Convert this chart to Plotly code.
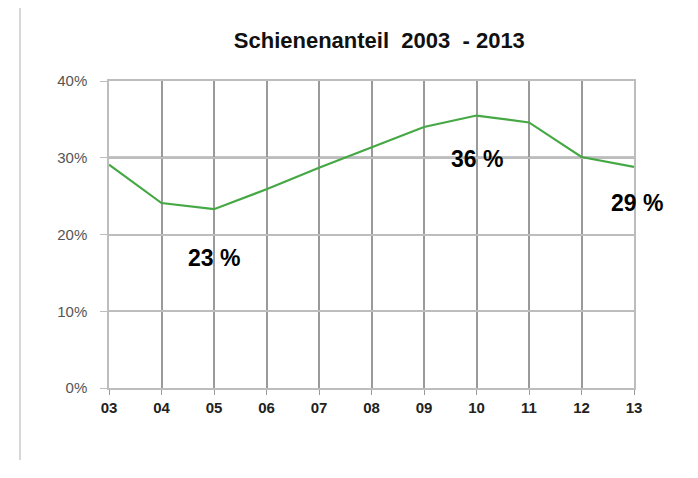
import plotly.graph_objects as go

years = ["03", "04", "05", "06", "07", "08", "09", "10", "11", "12", "13"]
share = [0.291, 0.241, 0.233, 0.259, 0.287, 0.313, 0.340, 0.355, 0.346, 0.301, 0.288]
y_ticks = [0, 0.1, 0.2, 0.3, 0.4]
y_ticktext = ["0%", "10%", "20%", "30%", "40%"]
labels = [("05", 0.23, "23 %"), ("10", 0.36, "36 %"), ("13", 0.29, "29 %")]

FONT = "Arial, Liberation Sans"

fig = go.Figure()
fig.add_trace(go.Scatter(x=list(range(len(years))), y=share, mode="lines",
                         line=dict(color="#45a845", width=2.2), showlegend=False))

# emphasized 30% reference line
fig.add_shape(type="line", xref="x", yref="y", x0=0, x1=len(years) - 1, y0=0.3, y1=0.3,
              line=dict(color="#8a8a8a", width=2.5), layer="below")

ann_offsets = {"23 %": (0, 47), "36 %": (0, 47), "29 %": (3, 38)}
for xv, yv, txt in labels:
    dx, dy = ann_offsets[txt]
    fig.add_annotation(x=years.index(xv), y=yv, text="<b>" + txt + "</b>", showarrow=False,
                       xshift=dx, yshift=-dy,
                       font=dict(family=FONT, size=23, color="black"))

# page edge line on the left
fig.add_shape(type="line", xref="paper", yref="paper", x0=-0.1695, x1=-0.1695,
              y0=-0.235, y1=1.238, line=dict(color="#b0b0b0", width=1))

fig.update_layout(
    width=698, height=478,
    margin=dict(l=101, r=72, t=73, b=98),
    paper_bgcolor="white", plot_bgcolor="white",
    title=dict(text="<b>Schienenanteil  2003  - 2013</b>", x=0.532, xanchor="center",
               y=0.933, yanchor="middle",
               font=dict(family=FONT, size=22, color="#111")),
    xaxis=dict(range=[0, 10], tickvals=list(range(len(years))), ticktext=years,
               showgrid=True, gridcolor="#9a9a9a", automargin=False,
               gridwidth=1.5, ticks="outside", ticklen=5, tickcolor="#9a9a9a",
               tickfont=dict(family=FONT, size=15, color="#222", weight="bold"),
               zeroline=False),
    yaxis=dict(range=[0, 0.4], tickvals=y_ticks, ticktext=y_ticktext, showgrid=True,
               gridcolor="#bdbdbd", gridwidth=2, ticks="outside", ticklen=7,
               ticklabelstandoff=10,
               tickcolor="#bdbdbd", zeroline=False, automargin=False,
               tickfont=dict(family=FONT, size=15, color="#555")),
)
fig.update_xaxes(showline=True, linecolor="#bdbdbd", linewidth=2, mirror=True)
fig.update_yaxes(showline=True, linecolor="#bdbdbd", linewidth=1.5, mirror=True)

fig.write_html("out.html")
